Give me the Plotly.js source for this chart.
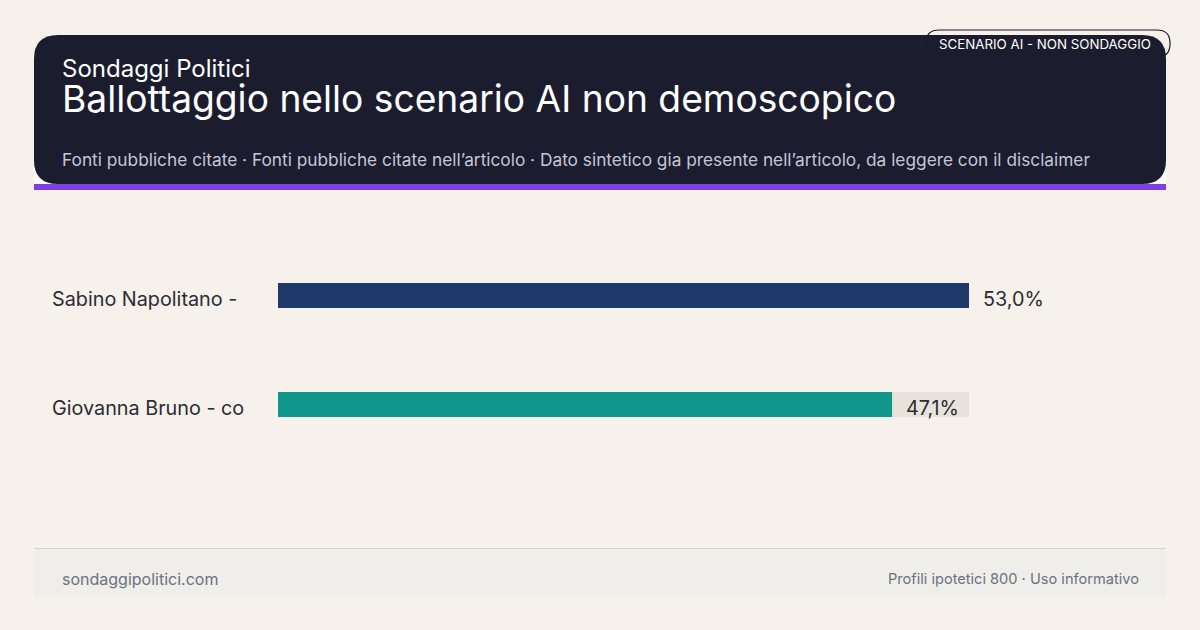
<!DOCTYPE html>
<html><head><meta charset="utf-8">
<script src="https://cdn.plot.ly/plotly-3.0.1.min.js"></script>
<style>html,body{margin:0;padding:0;background:#f6f1eb;}#chart{width:1200px;height:630px;}</style>
</head><body><div id="chart"></div>
<script>
const categories = ["Sabino Napolitano -", "Giovanna Bruno - co"];
const values = [53.0, 47.1];
const valueLabels = ["53,0%", "47,1%"];
const barColors = ["#1d3a6b", "#10968a"];
const trackMax = 53.0;

const W = 1200, H = 630;
const L = 278, R = 969, T = 241, B = 459;
const px = X => (X - L) / (R - L);
const py = Y => (B - Y) / (B - T);

function roundRect(x0, y0, x1, y1, r) {
  const p = (X, Y) => px(X) + ',' + py(Y);
  return 'M' + p(x0 + r, y0) + ' L' + p(x1 - r, y0) + ' Q' + p(x1, y0) + ' ' + p(x1, y0 + r) +
    ' L' + p(x1, y1 - r) + ' Q' + p(x1, y1) + ' ' + p(x1 - r, y1) +
    ' L' + p(x0 + r, y1) + ' Q' + p(x0, y1) + ' ' + p(x0, y1 - r) +
    ' L' + p(x0, y0 + r) + ' Q' + p(x0, y0) + ' ' + p(x0 + r, y0) + ' Z';
}

const track = {
  type: 'bar', orientation: 'h', y: categories, x: categories.map(() => trackMax),
  marker: {color: '#e7e2da'}, width: 0.23, hoverinfo: 'skip', showlegend: false
};
const bars = {
  type: 'bar', orientation: 'h', y: categories, x: values,
  marker: {color: barColors}, width: 0.23, showlegend: false
};

const font = 'Inter, "Noto Sans", sans-serif';
const textColor = '#2a2c36';
const annotations = [
  {xref: 'paper', yref: 'paper', x: px(60), y: py(68), xanchor: 'left', yanchor: 'middle', showarrow: false,
   text: 'Sondaggi Politici', font: {family: font, size: 24, color: '#ffffff'}},
  {xref: 'paper', yref: 'paper', x: px(60), y: py(160), xanchor: 'left', yanchor: 'middle', showarrow: false,
   text: 'Fonti pubbliche citate · Fonti pubbliche citate nell’articolo · Dato sintetico gia presente nell’articolo, da leggere con il disclaimer',
   font: {family: font, size: 17.3, color: '#c5c7d6'}},
  {xref: 'paper', yref: 'paper', x: px(1045), y: py(44), xanchor: 'center', yanchor: 'middle', showarrow: false,
   text: 'SCENARIO AI - NON SONDAGGIO', font: {family: font, size: 13.3, color: '#ffffff'}},
  {xref: 'paper', yref: 'paper', x: px(60), y: py(578.5), xanchor: 'left', yanchor: 'middle', showarrow: false,
   text: 'sondaggipolitici.com', font: {family: font, size: 16, color: '#6b7280'}},
  {xref: 'paper', yref: 'paper', x: px(1141), y: py(578.5), xanchor: 'right', yanchor: 'middle', showarrow: false,
   text: 'Profili ipotetici 800 · Uso informativo', font: {family: font, size: 14.6, color: '#6b7280'}}
];
categories.forEach((c, i) => {
  annotations.push({xref: 'paper', yref: 'y', x: px(50), y: c, yshift: -3, xanchor: 'left', yanchor: 'middle', showarrow: false,
    text: c, font: {family: font, size: 19.8, color: textColor}});
  annotations.push({xref: 'x', yref: 'y', x: values[i], y: c, xshift: 12, yshift: -3, xanchor: 'left', yanchor: 'middle', showarrow: false,
    text: valueLabels[i], font: {family: font, size: 19.8, color: textColor}});
});

const shapes = [
  {type: 'rect', xref: 'paper', yref: 'paper', x0: px(34), x1: px(1166), y0: py(184), y1: py(160), fillcolor: '#ffffff', line: {width: 0}, layer: 'below'},
  {type: 'path', xref: 'paper', yref: 'paper', path: roundRect(34, 35, 1166, 184, 24), fillcolor: '#1b1c2e', line: {width: 0}, layer: 'below'},
  {type: 'rect', xref: 'paper', yref: 'paper', x0: px(34), x1: px(1166), y0: py(190), y1: py(184), fillcolor: '#7b3fe4', line: {width: 0}, layer: 'below'},
  {type: 'path', xref: 'paper', yref: 'paper', path: roundRect(926, 30, 1170, 57, 13), fillcolor: 'rgba(0,0,0,0)', line: {width: 1.2, color: '#1b1c2e'}},
  {type: 'rect', xref: 'paper', yref: 'paper', x0: px(34), x1: px(1166), y0: py(597), y1: py(549), fillcolor: '#efeeea', line: {width: 0}, layer: 'below'},
  {type: 'line', xref: 'paper', yref: 'paper', x0: px(34), x1: px(1166), y0: py(548.5), y1: py(548.5), line: {width: 1, color: '#d9d1c1'}, layer: 'below'}
];

const layout = {
  width: W, height: H,
  paper_bgcolor: '#f6f1eb', plot_bgcolor: 'rgba(0,0,0,0)',
  margin: {l: L, r: W - R, t: T, b: H - B, pad: 0},
  barmode: 'overlay',
  title: {text: 'Ballottaggio nello scenario AI non demoscopico', x: 62 / W, xanchor: 'left', xref: 'container',
          y: 1 - 99 / H, yanchor: 'middle', yref: 'container', font: {family: font, size: 37.2, color: '#ffffff'}},
  xaxis: {range: [0, trackMax], showgrid: false, zeroline: false, showticklabels: false, ticks: '', fixedrange: true},
  yaxis: {type: 'category', autorange: false, range: [1.5, -0.5], showgrid: false, zeroline: false, showticklabels: false, ticks: ''},
  shapes: shapes, annotations: annotations, showlegend: false
};

Plotly.newPlot('chart', [track, bars], layout, {displayModeBar: false, staticPlot: true});
</script></body></html>
